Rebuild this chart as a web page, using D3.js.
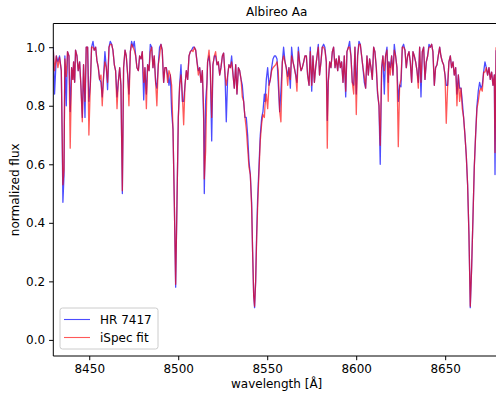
<!DOCTYPE html>
<html>
<head>
<meta charset="utf-8">
<script src="https://cdn.jsdelivr.net/npm/d3@7"></script>
<style>
  body { margin: 0; background: #fff; }
  svg { display: block; font-family: "DejaVu Sans", sans-serif; }
</style>
</head>
<body>
<div id="chart"></div>
<script>
// wavelength grid (Angstrom) and normalized flux
const wavelength = [
  8429.8, 8430.5, 8431.5, 8432.4, 8433.3, 8434.3, 8434.8, 8435.2, 8435.8, 8436.3,
  8437.1, 8437.8, 8438.6, 8439.3, 8440.1, 8440.8, 8441.2, 8441.8, 8442.3, 8443.1,
  8443.8, 8444.6, 8445.3, 8446.1, 8446.8, 8447.6, 8448.3, 8449.1, 8449.8, 8450.6,
  8451.3, 8452.1, 8452.8, 8453.6, 8454.3, 8455.1, 8455.8, 8456.6, 8457.3, 8458.1,
  8458.8, 8459.6, 8460.3, 8461.1, 8461.8, 8462.6, 8463.3, 8464.1, 8464.8, 8465.6,
  8466.3, 8467.1, 8467.8, 8468.6, 8469.3, 8470.1, 8470.8, 8471.6, 8472.3, 8473.1,
  8473.8, 8474.6, 8475.3, 8476.1, 8476.8, 8477.6, 8478.3, 8479.1, 8479.8, 8480.6,
  8481.3, 8482.1, 8482.8, 8483.6, 8484.3, 8485.1, 8485.8, 8486.5, 8487.3, 8488.0,
  8488.8, 8489.5, 8490.3, 8491.0, 8491.8, 8492.5,
  8493.3, 8494.05, 8494.8, 8495.55, 8496.3, 8497.05, 8497.8, 8498.55, 8499.3, 8500.05,
  8500.8, 8501.55, 8502.3, 8503.05, 8503.8, 8504.55, 8505.3, 8506.05, 8506.8, 8507.55,
  8508.3, 8509.05, 8509.8, 8510.55, 8511.3, 8512.05, 8512.8, 8513.55, 8514.3, 8514.65,
  8515.4, 8516.15, 8516.5, 8517.3, 8518.0, 8518.8, 8519.5, 8520.3, 8521.0, 8521.8,
  8522.5, 8523.3, 8524.0, 8524.8, 8525.5, 8526.3, 8527.0, 8527.8, 8528.5, 8529.3,
  8530.0, 8530.8, 8531.5, 8532.3, 8533.0, 8533.8, 8534.5, 8535.3, 8536.0, 8536.75,
  8537.5, 8538.25, 8539.0, 8539.75, 8540.5, 8541.25, 8541.8, 8542.4, 8542.9, 8543.5,
  8544.05, 8544.6, 8545.35, 8546.1, 8546.9, 8547.6, 8548.4, 8548.75, 8549.5, 8550.25,
  8551.0, 8551.75, 8552.5, 8553.25, 8554.0, 8554.75, 8555.5,
  8556.2, 8557.0, 8557.7, 8558.5, 8559.2, 8560.0, 8560.7, 8561.5, 8562.2, 8563.0,
  8563.7, 8564.5, 8565.2, 8566.0, 8566.7, 8567.5, 8568.2, 8569.0, 8569.7, 8570.5,
  8571.2, 8572.0, 8572.7, 8573.5, 8574.2, 8575.0, 8575.7, 8576.5, 8577.2, 8578.0,
  8578.7, 8579.4, 8580.2, 8580.9, 8581.7, 8582.4, 8583.2, 8583.75, 8584.3, 8585.1,
  8585.8, 8586.6, 8587.3, 8588.1, 8588.8, 8589.6, 8590.3, 8591.1, 8591.8, 8592.6,
  8593.3, 8594.1, 8594.8, 8595.6, 8596.3, 8597.05, 8597.8, 8598.6, 8599.3, 8600.05,
  8600.8, 8601.55, 8602.3, 8603.05, 8603.8, 8604.55, 8605.3, 8606.05, 8606.8, 8607.55,
  8608.3, 8609.05, 8609.8, 8610.5, 8611.3, 8612.0, 8612.8, 8613.5, 8614.3, 8615.0,
  8615.8, 8616.5, 8617.3, 8618.0,
  8618.4, 8619.15, 8619.9, 8620.65, 8621.4, 8622.15, 8622.9, 8623.65, 8624.4, 8625.15,
  8625.9, 8626.65, 8627.4, 8628.15, 8628.9, 8629.65, 8630.4, 8631.15, 8631.9, 8632.65,
  8633.4, 8634.15, 8634.9, 8635.65, 8636.4, 8637.15, 8637.9, 8638.65, 8639.4, 8640.15,
  8640.9, 8641.65, 8642.4, 8643.1, 8643.9, 8644.6, 8645.4, 8646.1, 8646.9, 8647.6,
  8648.4, 8649.1, 8649.9, 8650.6, 8651.4, 8652.1, 8652.9, 8653.6, 8654.4, 8655.1,
  8655.9, 8656.6, 8657.4, 8658.1, 8658.9, 8659.6, 8660.35, 8661.1, 8661.85, 8662.6,
  8663.35, 8664.1, 8664.85, 8665.6, 8666.35, 8667.1, 8667.85, 8668.6, 8669.35, 8670.1,
  8670.85, 8671.6, 8672.35, 8673.1, 8673.85, 8674.6, 8675.35, 8676.1, 8676.85, 8677.6,
  8678.0, 8678.6
]

// HR 7417 observed spectrum
const hrFlux = [
  1.00, 0.84, 0.97, 0.95, 0.97, 0.92, 0.68, 0.47, 0.56, 0.97,
  0.80, 0.985, 0.97, 0.78, 0.93, 0.89, 0.95, 0.88, 0.99, 0.97,
  0.92, 0.95, 0.87, 0.76, 0.94, 0.76, 1.00, 1.00, 0.815, 0.87,
  1.00, 1.02, 0.99, 1.00, 0.955, 0.93, 0.89, 0.88, 0.83, 0.905,
  0.985, 0.93, 0.855, 1.00, 1.02, 1.01, 0.99, 0.94, 0.92, 0.83,
  0.88, 0.93, 0.87, 0.50, 0.93, 0.99, 0.97, 0.905, 0.84, 0.985,
  1.02, 1.00, 1.02, 0.97, 0.93, 0.92, 0.97, 0.96, 0.985, 0.82,
  0.93, 0.84, 0.94, 0.92, 1.01, 1.00, 0.93, 0.97, 0.88, 0.86,
  0.94, 1.00, 1.01, 0.99, 0.88, 0.93,
  0.93, 0.905, 0.87, 0.905, 0.78, 0.72, 0.47, 0.18, 0.47, 0.76,
  0.87, 0.94, 0.815, 0.815, 0.87, 0.92, 0.89, 0.97, 0.985, 0.99,
  1.00, 1.00, 0.99, 0.95, 0.92, 0.93, 0.88, 0.92, 0.75, 0.50,
  0.815, 0.88, 0.95, 0.97, 0.93, 0.68, 0.94, 0.97, 0.97, 0.94,
  0.95, 0.905, 0.93, 0.97, 0.98, 0.905, 0.745, 0.905, 0.94, 0.93,
  0.97, 0.905, 0.86, 0.94, 0.84, 0.93, 0.92, 0.89, 0.87, 0.815,
  0.76, 0.76, 0.70, 0.61, 0.565, 0.47, 0.30, 0.15, 0.11, 0.20,
  0.36, 0.48, 0.59, 0.70, 0.76, 0.78, 0.84, 0.815, 0.89, 0.93,
  0.87, 0.89, 0.93, 0.96, 0.97, 0.97, 0.96,
  0.875, 0.78, 0.85, 0.95, 1.00, 0.95, 0.93, 0.90, 0.93, 0.86,
  1.00, 0.95, 0.93, 0.905, 0.88, 1.00, 0.95, 0.92, 0.93, 0.95,
  0.97, 0.97, 0.905, 0.87, 1.00, 0.85, 0.97, 0.88, 0.93, 0.97,
  1.01, 0.905, 0.95, 1.00, 1.01, 1.00, 0.95, 0.75, 0.88, 0.95,
  0.93, 0.985, 1.00, 0.93, 0.96, 0.92, 0.97, 0.93, 0.95, 0.88,
  0.97, 0.83, 0.985, 1.00, 1.02, 0.97, 0.88, 0.87, 1.00, 0.84,
  0.97, 1.02, 1.01, 0.97, 0.93, 0.88, 0.86, 0.97, 0.905, 0.96,
  0.93, 0.89, 1.00, 0.985, 0.93, 0.84, 0.80, 0.60, 0.93, 0.97,
  0.84, 0.97, 1.00, 0.88,
  0.95, 0.93, 0.97, 0.905, 1.01, 0.97, 0.93, 0.815, 0.87, 0.865,
  1.00, 1.01, 0.99, 0.93, 0.97, 0.985, 0.95, 0.88, 0.985, 0.97,
  0.95, 0.92, 0.88, 1.00, 0.83, 0.985, 1.00, 0.89, 0.95, 0.97,
  1.01, 1.00, 1.01, 0.985, 0.87, 0.93, 0.94, 0.97, 1.00, 0.97,
  0.95, 0.94, 0.905, 0.87, 0.87, 0.95, 0.97, 0.93, 0.95, 0.905,
  0.93, 0.84, 0.905, 0.86, 0.86, 0.815, 0.76, 0.70, 0.63, 0.53,
  0.36, 0.11, 0.245, 0.415, 0.59, 0.70, 0.80, 0.85, 0.88, 0.86,
  0.87, 0.915, 0.95, 0.93, 0.905, 0.93, 0.89, 0.915, 0.87, 0.905,
  0.565, 0.99
]

// iSpec synthetic fit
const fitFlux = [
  0.99, 0.92, 0.97, 0.93, 0.965, 0.92, 0.70, 0.53, 0.58, 0.96,
  0.90, 0.985, 0.97, 0.655, 0.93, 0.89, 0.95, 0.88, 0.99, 0.97,
  0.92, 0.95, 0.87, 0.745, 0.94, 0.815, 1.00, 1.00, 0.70, 0.87,
  1.00, 1.00, 0.99, 1.00, 0.955, 0.93, 0.89, 0.905, 0.80, 0.905,
  0.95, 0.93, 0.88, 1.00, 1.01, 1.01, 0.99, 0.94, 0.92, 0.79,
  0.88, 0.93, 0.87, 0.51, 0.93, 0.99, 0.97, 0.905, 0.80, 0.985,
  1.01, 1.00, 0.99, 0.97, 0.93, 0.92, 0.97, 0.96, 0.985, 0.88,
  0.93, 0.79, 0.94, 0.92, 0.985, 1.00, 0.93, 0.97, 0.88, 0.80,
  0.94, 0.97, 1.01, 0.99, 0.88, 0.93,
  0.93, 0.88, 0.92, 0.905, 0.87, 0.72, 0.47, 0.19, 0.47, 0.76,
  0.87, 0.905, 0.84, 0.735, 0.87, 0.92, 0.89, 0.97, 0.985, 0.99,
  0.985, 1.00, 0.99, 0.95, 0.905, 0.93, 0.88, 0.92, 0.78, 0.55,
  0.645, 0.88, 0.95, 0.99, 0.93, 0.76, 0.94, 0.97, 0.985, 0.94,
  0.95, 0.905, 0.93, 0.97, 0.98, 0.905, 0.87, 0.905, 0.94, 0.93,
  0.95, 0.905, 0.86, 0.94, 0.84, 0.93, 0.92, 0.89, 0.83, 0.815,
  0.76, 0.72, 0.655, 0.59, 0.565, 0.45, 0.30, 0.15, 0.115, 0.20,
  0.34, 0.45, 0.57, 0.68, 0.74, 0.77, 0.76, 0.80, 0.84, 0.79,
  0.87, 0.89, 0.92, 0.93, 0.935, 0.94, 0.95,
  0.92, 0.78, 0.745, 0.95, 0.97, 0.95, 0.93, 0.87, 0.93, 0.89,
  0.97, 0.95, 0.93, 0.905, 0.85, 0.985, 0.95, 0.92, 0.93, 0.95,
  0.97, 0.97, 0.905, 0.87, 0.985, 0.87, 0.97, 0.88, 0.93, 0.97,
  1.00, 0.905, 0.95, 1.00, 1.00, 0.99, 0.95, 0.655, 0.88, 0.95,
  0.93, 0.985, 1.00, 0.93, 0.96, 0.92, 0.97, 0.93, 0.95, 0.88,
  0.97, 0.85, 0.985, 1.00, 1.00, 0.97, 0.88, 0.84, 1.00, 0.77,
  0.97, 1.01, 1.01, 0.97, 0.93, 0.90, 0.86, 0.97, 0.905, 0.96,
  0.93, 0.89, 1.00, 0.985, 0.93, 0.85, 0.80, 0.665, 0.93, 0.97,
  0.92, 0.97, 0.99, 0.815,
  0.95, 0.905, 0.97, 0.905, 0.99, 0.97, 0.93, 0.66, 0.87, 0.89,
  1.00, 1.00, 0.99, 0.93, 0.97, 0.985, 0.95, 0.88, 0.985, 0.97,
  0.95, 0.92, 0.86, 1.00, 0.88, 0.985, 1.00, 0.89, 0.95, 0.97,
  1.00, 1.00, 1.01, 0.985, 0.87, 0.93, 0.94, 0.97, 1.00, 0.97,
  0.95, 0.94, 0.905, 0.74, 0.87, 0.95, 0.97, 0.93, 0.95, 0.905,
  0.93, 0.80, 0.905, 0.815, 0.86, 0.79, 0.76, 0.70, 0.63, 0.53,
  0.36, 0.115, 0.245, 0.415, 0.59, 0.70, 0.79, 0.815, 0.85, 0.86,
  0.85, 0.915, 0.915, 0.93, 0.905, 0.93, 0.89, 0.915, 0.87, 0.905,
  0.64, 1.00
]

const xTicks = [8450, 8500, 8550, 8600, 8650]
const yTicks = [0.0, 0.2, 0.4, 0.6, 0.8, 1.0]
const seriesNames = ['HR 7417', 'iSpec fit']

const width = 496
const height = 395
const margin = { top: 23.5, right: -4, bottom: 39, left: 53.3 }

const svg = d3.select('#chart')
  .append('svg')
  .attr('width', width)
  .attr('height', height)

const x = d3.scaleLinear()
  .domain([8429.8, 8680.8])
  .range([margin.left, width - margin.right])

const y = d3.scaleLinear()
  .domain([-0.055, 1.081])
  .range([height - margin.bottom, margin.top])

svg.append('defs')
  .append('clipPath')
  .attr('id', 'plot-clip')
  .append('rect')
  .attr('x', margin.left)
  .attr('y', margin.top)
  .attr('width', width - margin.right - margin.left)
  .attr('height', height - margin.bottom - margin.top)

const line = d3.line()
  .x(d => x(d[0]))
  .y(d => y(d[1]))

const series = [
  { name: seriesNames[0], values: wavelength.map((w, i) => [w, hrFlux[i]]), color: '#0000ff', opacity: 0.7 },
  { name: seriesNames[1], values: wavelength.map((w, i) => [w, fitFlux[i]]), color: '#ff0000', opacity: 0.65 }
]

const plot = svg.append('g').attr('clip-path', 'url(#plot-clip)')

plot.selectAll('.spec')
  .data(series)
  .join('path')
  .attr('class', 'spec')
  .attr('d', d => line(d.values))
  .attr('fill', 'none')
  .attr('stroke', d => d.color)
  .attr('stroke-opacity', d => d.opacity)
  .attr('stroke-width', 1.3)
  .attr('stroke-linejoin', 'round')

// axes
const xAxis = svg.append('g')
  .attr('transform', `translate(0,${height - margin.bottom})`)
  .call(d3.axisBottom(x).tickValues(xTicks).tickFormat(d3.format('d')).tickSizeOuter(0).tickSize(4.2).tickPadding(4))

const yAxis = svg.append('g')
  .attr('transform', `translate(${margin.left},0)`)
  .call(d3.axisLeft(y).tickValues(yTicks).tickFormat(d3.format('.1f')).tickSizeOuter(0).tickSize(4.2).tickPadding(4))

for (const ax of [xAxis, yAxis]) {
  ax.select('.domain').remove()
  ax.selectAll('.tick line').attr('stroke', '#000').attr('stroke-width', 1)
  ax.selectAll('.tick text')
    .attr('fill', '#000')
    .style('font-family', '"DejaVu Sans", sans-serif')
    .style('font-size', '12px')
}

// spines (left, bottom, top)
const spine = svg.append('g').attr('stroke', '#000').attr('stroke-width', 1).attr('fill', 'none')
spine.append('line')
  .attr('x1', margin.left).attr('x2', margin.left)
  .attr('y1', margin.top).attr('y2', height - margin.bottom)
spine.append('line')
  .attr('x1', margin.left).attr('x2', width)
  .attr('y1', height - margin.bottom).attr('y2', height - margin.bottom)
spine.append('line')
  .attr('x1', margin.left).attr('x2', width)
  .attr('y1', margin.top).attr('y2', margin.top)

// title and labels
svg.append('text')
  .attr('x', (margin.left + width - margin.right) / 2)
  .attr('y', 16)
  .attr('text-anchor', 'middle')
  .style('font-size', '12px')
  .text('Albireo Aa')

const xl = svg.append('text')
  .attr('x', (margin.left + width - margin.right) / 2)
  .attr('y', 388)
  .attr('text-anchor', 'middle')
  .style('font-size', '12px')
xl.append('tspan').text('wavelength [')
xl.append('tspan').text('Å')
xl.append('tspan').text(']')

svg.append('text')
  .attr('transform', `translate(19,${(margin.top + height - margin.bottom) / 2}) rotate(-90)`)
  .attr('text-anchor', 'middle')
  .style('font-size', '12px')
  .text('normalized flux')

// legend
const legend = svg.append('g').attr('transform', 'translate(60,308)')
legend.append('rect')
  .attr('width', 98)
  .attr('height', 41)
  .attr('rx', 2.5)
  .attr('fill', '#fff')
  .attr('fill-opacity', 0.8)
  .attr('stroke', '#cccccc')
  .attr('stroke-width', 1)

const item = legend.selectAll('.item')
  .data(series)
  .join('g')
  .attr('class', 'item')
  .attr('transform', (d, i) => `translate(0,${11.5 + i * 18})`)

item.append('line')
  .attr('x1', 4).attr('x2', 30)
  .attr('stroke', d => d.color)
  .attr('stroke-opacity', d => d.opacity)
  .attr('stroke-width', 1.1)

item.append('text')
  .attr('x', 40)
  .attr('y', 4.5)
  .style('font-size', '12px')
  .text(d => d.name)
</script>
</body>
</html>
